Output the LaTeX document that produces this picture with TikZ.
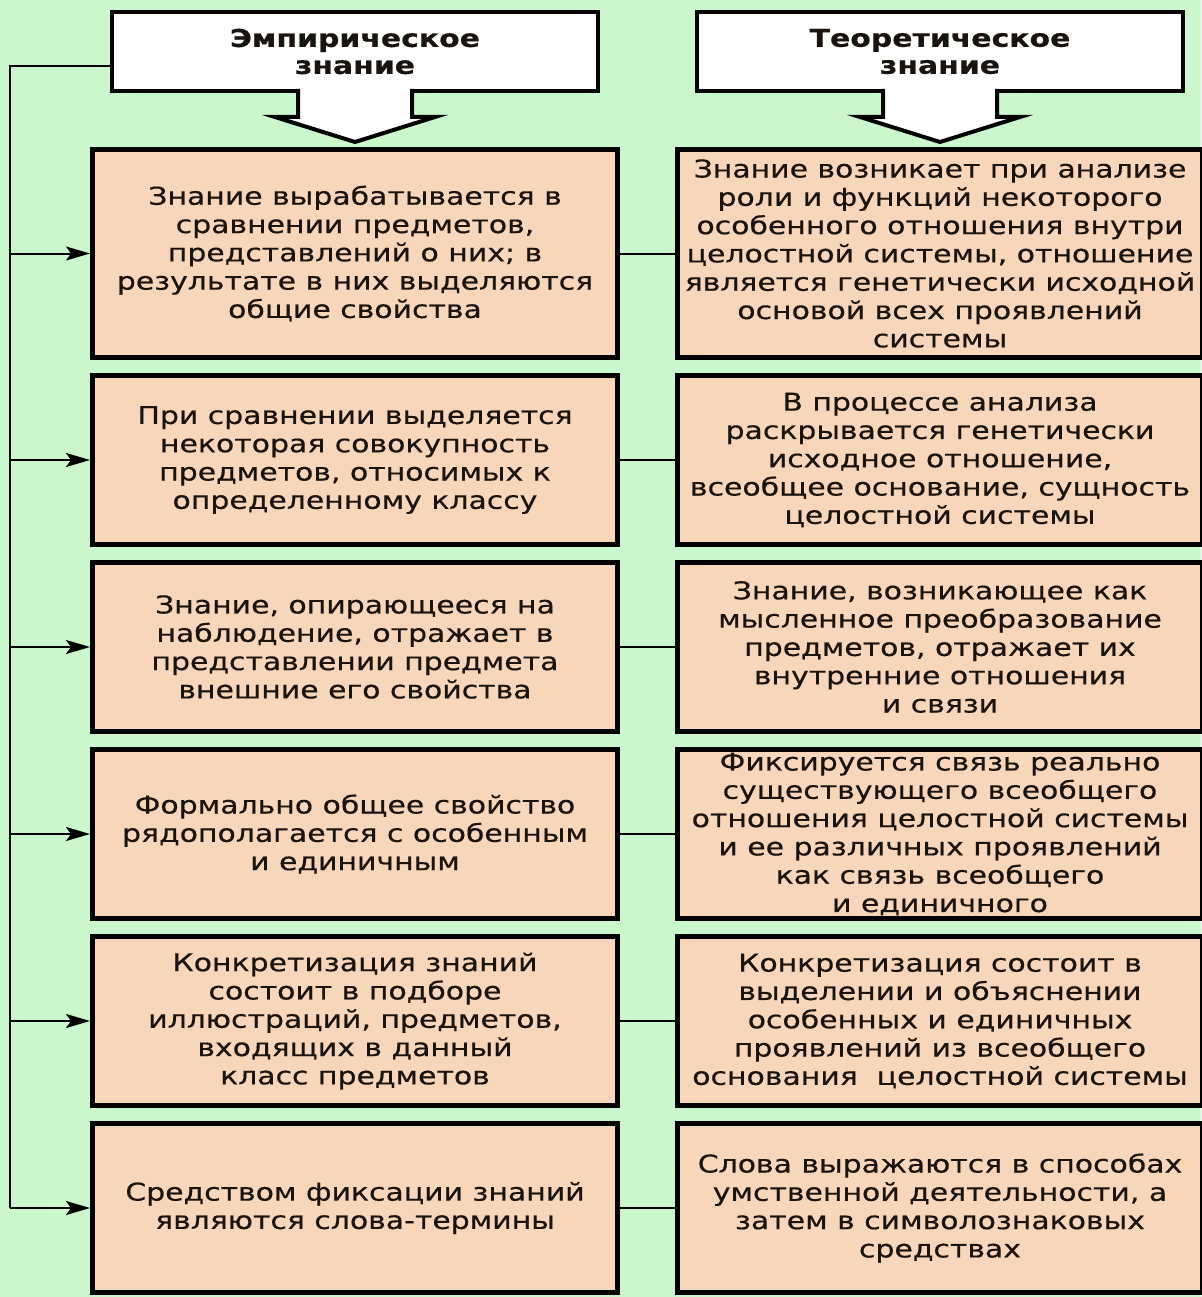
\documentclass[tikz,border=0pt]{standalone}
\usepackage{fontspec}
\setmainfont{DejaVu Sans}[FakeStretch=1.22,FakeBold=0.5]
\usetikzlibrary{positioning,calc,arrows.meta}
\definecolor{bggreen}{RGB}{202,248,204}
\definecolor{peach}{RGB}{248,214,186}
\definecolor{ink}{RGB}{25,20,15}
\tikzset{
block/.style={rectangle, minimum width=525pt, minimum height=169pt, text centered, align=center, draw=black, line width=5pt, fill=peach, text=ink, font=\fontsize{24.5}{28.3}\selectfont},
head/.style={rectangle, minimum width=486pt, minimum height=79pt, align=center, draw=black, line width=4pt, fill=white, outer sep=0pt, text=ink, font=\bfseries\fontsize{24.5}{27}\selectfont},
headarrow/.style={draw=black, line width=4pt, fill=white, line join=miter},
arrow/.style={line width=2pt,->,>={Stealth[length=24pt,width=14pt,inset=5pt]}},
noarrow/.style={line width=2pt}}

\begin{document}
\begin{tikzpicture}[x=1pt,y=-1pt]
\fill [bggreen] (0,0) rectangle (1201,1297);
\useasboundingbox (0,0) rectangle (1201,1297);

% left column
\node (emp1) [block, minimum height=208pt] at (355,253.5) {Знание вырабатывается в\\сравнении предметов,\\представлений о них; в\\результате в них выделяются\\общие свойства};
\node (emp2) [block, below=13pt of emp1] {При сравнении выделяется\\некоторая совокупность\\предметов, относимых к\\определенному классу};
\node (emp3) [block, below=13pt of emp2] {Знание, опирающееся на\\наблюдение, отражает в\\представлении предмета\\внешние его свойства};
\node (emp4) [block, below=13pt of emp3] {Формально общее свойство\\рядополагается с особенным\\и единичным};
\node (emp5) [block, below=13pt of emp4] {Конкретизация знаний\\состоит в подборе\\иллюстраций, предметов,\\входящих в данный\\класс предметов};
\node (emp6) [block, below=13pt of emp5] {Средством фиксации знаний\\являются слова-термины};

% right column
\node (teo1) [block, minimum height=208pt, right=55pt of emp1] {Знание возникает при анализе\\роли и функций некоторого\\особенного отношения внутри\\целостной системы, отношение\\является генетически исходной\\основой всех проявлений\\системы};
\node (teo2) [block, right=55pt of emp2] {В процессе анализа\\раскрывается генетически\\исходное отношение,\\всеобщее основание, сущность\\целостной системы};
\node (teo3) [block, right=55pt of emp3] {Знание, возникающее как\\мысленное преобразование\\предметов, отражает их\\внутренние отношения\\и связи};
\node (teo4) [block, right=55pt of emp4] {Фиксируется связь реально\\существующего всеобщего\\отношения целостной системы\\и ее различных проявлений\\как связь всеобщего\\и единичного};
\node (teo5) [block, right=55pt of emp5] {Конкретизация состоит в\\выделении и объяснении\\особенных и единичных\\проявлений из всеобщего\\основания\ \ целостной системы};
\node (teo6) [block, right=55pt of emp6] {Слова выражаются в способах\\умственной деятельности, а\\затем в символознаковых\\средствах};

% headers with their arrows
\node (emp) [head, above=56pt of emp1] {Эмпирическое\\знание};
\node (teo) [head, above=56pt of teo1] {Теоретическое\\знание};
\filldraw [headarrow] ($(emp.south)+(-57,-2)$) -- ++(0,28) -- ++(-23,0) -- ($(emp.south)+(0,51)$) -- ++(80,-25) -- ++(-23,0) -- ++(0,-28);
\filldraw [headarrow] ($(teo.south)+(-57,-2)$) -- ++(0,28) -- ++(-23,0) -- ($(teo.south)+(0,51)$) -- ++(80,-25) -- ++(-23,0) -- ++(0,-28);

% connectors
\coordinate (rail) at (10,66);
\draw [noarrow] (emp.west |- rail) -- (rail) -- (rail |- emp6.west);
\foreach \i in {1,...,6} \draw [arrow] (rail |- emp\i.west) -- (emp\i.west);
\foreach \i in {1,...,6} \draw [noarrow] (emp\i.east) -- (teo\i.west);
\end{tikzpicture}
\end{document}
